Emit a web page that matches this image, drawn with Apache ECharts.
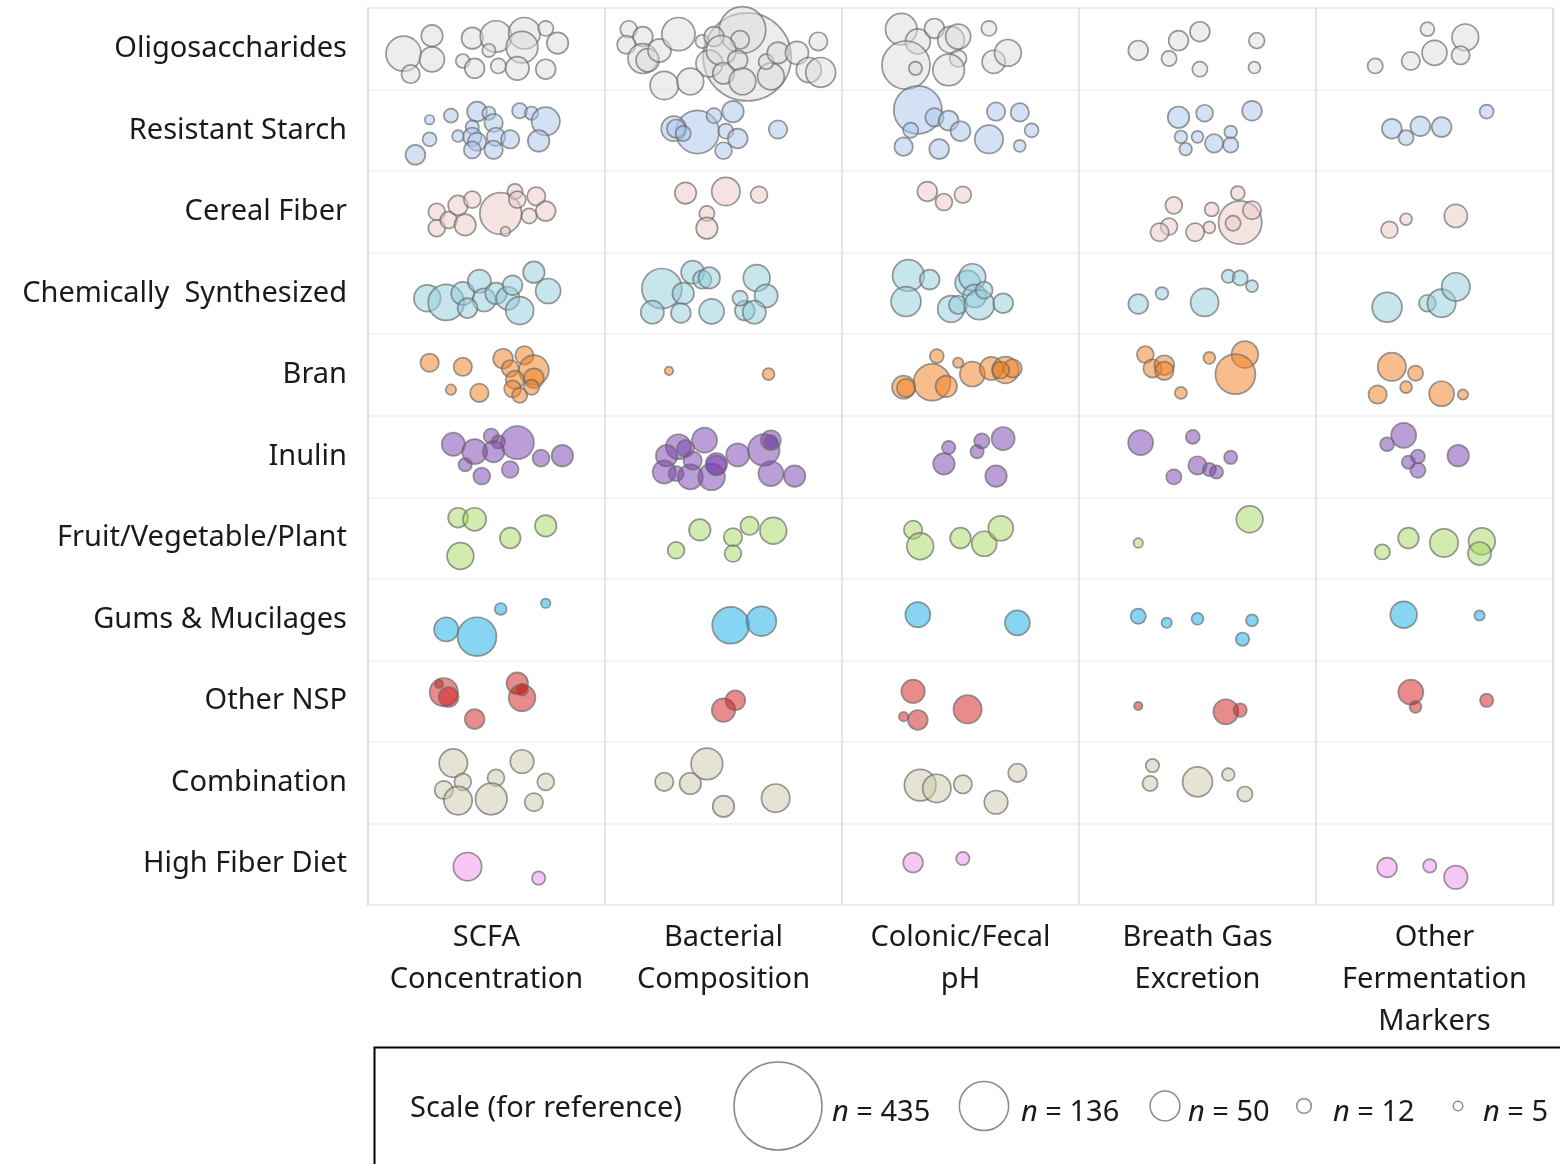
<!DOCTYPE html>
<html>
<head>
<meta charset="utf-8">
<script src="https://cdn.jsdelivr.net/npm/echarts@6/dist/echarts.min.js"></script>
<style>
html,body{margin:0;padding:0;background:#fff;}
#chart{width:1560px;height:1164px;}
</style>
</head>
<body>
<div id="chart"></div>
<script>
// ---------- DATA ----------
const categories = ['Oligosaccharides','Resistant Starch','Cereal Fiber','Chemically  Synthesized','Bran','Inulin','Fruit/Vegetable/Plant','Gums & Mucilages','Other NSP','Combination','High Fiber Diet'];
const outcomes = ['SCFA\nConcentration','Bacterial\nComposition','Colonic/Fecal\npH','Breath Gas\nExcretion','Other\nFermentation\nMarkers'];
const scaleN = [435, 136, 50, 12, 5];

// each point: [outcome position (column + offset), offset within the fiber row (0-1), n]
const oligosaccharides = [
[0.15,0.56,69],[0.27,0.34,26],[0.27,0.63,35],[0.18,0.81,19],[0.40,0.65,11],[0.44,0.37,26],[0.45,0.74,22],[0.54,0.35,56],[0.51,0.52,10],[0.55,0.71,13],[0.66,0.31,56],[0.65,0.48,56],[0.63,0.74,31],[0.75,0.25,13],[0.80,0.43,26],[0.75,0.75,22],
[1.60,0.60,435],[1.58,0.27,122],[1.57,0.39,19],[1.10,0.26,16],[1.16,0.35,22],[1.09,0.45,19],[1.16,0.62,50],[1.18,0.64,30],[1.23,0.52,30],[1.31,0.32,62],[1.41,0.41,10],[1.46,0.35,22],[1.44,0.68,40],[1.49,0.52,50],[1.50,0.80,26],[1.56,0.64,22],[1.25,0.95,45],[1.36,0.90,40],[1.58,0.90,40],[1.70,0.84,40],[1.68,0.66,13],[1.73,0.55,26],[1.81,0.55,30],[1.86,0.76,35],[1.91,0.79,50],[1.90,0.41,19],
[2.25,0.26,56],[2.32,0.41,35],[2.39,0.25,22],[2.46,0.39,40],[2.49,0.35,35],[2.49,0.62,16],[2.27,0.70,130],[2.31,0.74,10],[2.45,0.76,56],[2.62,0.25,13],[2.64,0.66,30],[2.70,0.55,40],
[3.25,0.52,22],[3.38,0.62,13],[3.42,0.40,22],[3.51,0.29,22],[3.51,0.75,13],[3.75,0.40,14],[3.74,0.73,8],
[4.25,0.71,13],[4.40,0.65,19],[4.50,0.55,35],[4.47,0.26,11],[4.63,0.36,40],[4.61,0.58,19]
];
const resistantStarch = [
[0.26,0.37,5],[0.35,0.32,11],[0.26,0.61,11],[0.20,0.80,22],[0.38,0.57,8],[0.46,0.27,22],[0.51,0.29,10],[0.53,0.41,19],[0.44,0.46,10],[0.44,0.58,19],[0.46,0.64,19],[0.44,0.74,16],[0.54,0.58,19],[0.53,0.74,19],[0.60,0.61,19],[0.64,0.26,13],[0.69,0.29,10],[0.75,0.39,45],[0.72,0.63,26],
[1.39,0.52,105],[1.29,0.48,35],[1.30,0.48,19],[1.33,0.54,13],[1.46,0.32,13],[1.54,0.27,26],[1.51,0.51,13],[1.56,0.60,22],[1.50,0.75,16],[1.73,0.49,19],
[2.32,0.25,130],[2.29,0.50,13],[2.39,0.34,19],[2.45,0.38,22],[2.50,0.51,22],[2.26,0.70,19],[2.41,0.73,22],[2.62,0.61,45],[2.65,0.27,19],[2.75,0.28,19],[2.80,0.50,11],[2.75,0.69,8],
[3.42,0.34,26],[3.53,0.29,16],[3.73,0.26,22],[3.43,0.58,9],[3.45,0.73,9],[3.50,0.58,8],[3.57,0.66,19],[3.64,0.52,9],[3.64,0.68,13],
[4.32,0.48,22],[4.38,0.59,13],[4.44,0.45,22],[4.53,0.46,22],[4.72,0.27,11]
];
const cerealFiber = [
[0.29,0.50,16],[0.29,0.70,16],[0.34,0.60,16],[0.38,0.42,22],[0.44,0.35,16],[0.41,0.66,26],[0.56,0.52,98],[0.62,0.25,13],[0.63,0.35,16],[0.71,0.31,19],[0.75,0.49,22],[0.68,0.55,13],[0.58,0.74,5],
[1.34,0.27,26],[1.51,0.25,45],[1.65,0.29,16],[1.43,0.52,13],[1.43,0.70,26],
[2.36,0.25,22],[2.43,0.38,16],[2.51,0.29,16],
[3.40,0.42,16],[3.38,0.68,16],[3.34,0.75,19],[3.49,0.75,19],[3.55,0.69,8],[3.56,0.47,11],[3.67,0.27,11],[3.68,0.63,105],[3.73,0.48,19],[3.65,0.64,13],
[4.31,0.72,16],[4.38,0.59,8],[4.59,0.55,30]
];
const chemicallySynthesized = [
[0.25,0.56,40],[0.33,0.61,73],[0.40,0.50,30],[0.47,0.35,30],[0.49,0.58,30],[0.54,0.50,26],[0.59,0.56,30],[0.61,0.40,22],[0.64,0.71,44],[0.70,0.24,26],[0.76,0.47,35],[0.42,0.68,22],
[1.24,0.44,90],[1.37,0.24,30],[1.41,0.33,19],[1.44,0.31,26],[1.33,0.50,26],[1.20,0.73,30],[1.32,0.74,22],[1.45,0.72,35],[1.64,0.31,40],[1.68,0.53,30],[1.59,0.71,22],[1.63,0.73,30],[1.57,0.56,13],
[2.28,0.28,56],[2.37,0.33,22],[2.27,0.60,50],[2.46,0.69,40],[2.49,0.64,19],[2.53,0.37,35],[2.55,0.30,40],[2.56,0.53,30],[2.58,0.64,50],[2.68,0.62,22],[2.60,0.46,16],
[3.25,0.63,22],[3.35,0.50,9],[3.53,0.61,44],[3.63,0.29,10],[3.68,0.31,13],[3.73,0.41,8],
[4.30,0.67,50],[4.47,0.62,16],[4.53,0.62,45],[4.59,0.42,45]
];
const bran = [
[0.26,0.35,19],[0.40,0.40,19],[0.35,0.68,6],[0.47,0.72,19],[0.57,0.30,22],[0.66,0.26,19],[0.70,0.44,50],[0.60,0.42,16],[0.62,0.56,19],[0.70,0.54,22],[0.61,0.67,16],[0.64,0.75,13],[0.69,0.65,13],
[1.27,0.45,4],[1.69,0.49,8],
[2.26,0.65,30],[2.27,0.66,19],[2.38,0.59,76],[2.40,0.27,11],[2.44,0.64,26],[2.49,0.35,6],[2.55,0.49,35],[2.63,0.42,30],[2.69,0.44,40],[2.72,0.42,19],[2.67,0.44,16],
[3.28,0.25,16],[3.31,0.42,19],[3.36,0.38,22],[3.36,0.45,19],[3.55,0.29,8],[3.43,0.72,8],[3.70,0.25,40],[3.66,0.49,90],
[4.32,0.40,45],[4.42,0.48,13],[4.38,0.65,8],[4.26,0.74,19],[4.53,0.73,35],[4.62,0.74,6]
];
const inulin = [
[0.36,0.35,30],[0.45,0.44,35],[0.52,0.25,13],[0.55,0.32,10],[0.53,0.44,26],[0.63,0.33,62],[0.41,0.60,10],[0.48,0.74,16],[0.60,0.66,16],[0.73,0.52,16],[0.82,0.49,26],
[1.31,0.38,35],[1.26,0.49,26],[1.34,0.40,16],[1.42,0.30,35],[1.25,0.69,30],[1.30,0.71,13],[1.36,0.75,35],[1.37,0.55,19],[1.45,0.75,40],[1.47,0.61,22],[1.47,0.59,26],[1.56,0.48,30],[1.67,0.42,56],[1.70,0.30,22],[1.70,0.32,10],[1.70,0.71,35],[1.80,0.74,26],
[2.45,0.39,10],[2.43,0.59,26],[2.59,0.31,13],[2.57,0.44,10],[2.68,0.28,30],[2.65,0.74,26],
[3.26,0.33,35],[3.48,0.26,11],[3.64,0.51,10],[3.50,0.61,19],[3.55,0.66,10],[3.58,0.69,10],[3.40,0.75,13],
[4.37,0.24,35],[4.30,0.35,11],[4.43,0.50,11],[4.39,0.57,10],[4.43,0.67,13],[4.60,0.49,26]
];
const fruitVegetablePlant = [
[0.38,0.25,22],[0.45,0.27,30],[0.60,0.50,24],[0.75,0.35,26],[0.39,0.72,40],
[1.40,0.40,26],[1.30,0.65,16],[1.54,0.49,19],[1.61,0.35,19],[1.54,0.69,16],[1.71,0.41,40],
[2.30,0.40,19],[2.33,0.60,40],[2.50,0.50,24],[2.60,0.57,35],[2.67,0.38,35],
[3.25,0.56,5],[3.72,0.27,40],
[4.28,0.67,13],[4.39,0.50,24],[4.54,0.56,45],[4.70,0.54,40],[4.69,0.69,30]
];
const gumsMucilages = [
[0.33,0.62,33],[0.46,0.71,85],[0.56,0.37,8],[0.75,0.30,5],
[1.53,0.57,76],[1.66,0.52,50],
[2.32,0.44,35],[2.74,0.54,35],
[3.25,0.46,13],[3.37,0.54,6],[3.50,0.49,8],[3.73,0.51,8],[3.69,0.74,10],
[4.37,0.44,40],[4.69,0.45,6]
];
const otherNSP = [
[0.32,0.39,45],[0.34,0.45,22],[0.30,0.29,4],[0.63,0.28,26],[0.65,0.46,40],[0.65,0.36,8],[0.45,0.72,22],
[1.50,0.61,31],[1.55,0.49,22],
[2.30,0.38,31],[2.32,0.73,22],[2.26,0.69,5],[2.53,0.60,45],
[3.25,0.56,4],[3.62,0.63,35],[3.68,0.61,10],
[4.40,0.39,35],[4.42,0.57,8],[4.72,0.49,10]
];
const combination = [
[0.36,0.26,45],[0.40,0.49,16],[0.32,0.59,19],[0.38,0.72,45],[0.54,0.44,16],[0.52,0.70,56],[0.65,0.24,31],[0.75,0.49,16],[0.70,0.74,19],
[1.25,0.49,19],[1.36,0.51,26],[1.43,0.27,56],[1.50,0.79,26],[1.72,0.69,45],
[2.33,0.53,56],[2.40,0.57,45],[2.51,0.52,19],[2.74,0.38,19],[2.65,0.74,31],
[3.31,0.29,10],[3.30,0.51,13],[3.50,0.49,50],[3.63,0.40,9],[3.70,0.64,13]
];
const highFiberDiet = [
[0.42,0.53,45],[0.72,0.67,10],
[2.30,0.48,22],[2.51,0.43,10],
[4.30,0.54,22],[4.48,0.52,10],[4.59,0.66,31]
];

const rowsData = [oligosaccharides, resistantStarch, cerealFiber, chemicallySynthesized, bran, inulin,
  fruitVegetablePlant, gumsMucilages, otherNSP, combination, highFiberDiet];

// ---------- STYLE ----------
const fills = [
  'rgba(221,221,221,0.65)', 'rgba(170,198,235,0.65)', 'rgba(235,201,200,0.65)', 'rgba(145,205,220,0.65)',
  'rgba(240,125,32,0.64)', 'rgba(122,62,176,0.64)', 'rgba(163,214,94,0.62)', 'rgba(20,172,232,0.64)',
  'rgba(209,20,20,0.62)', 'rgba(205,201,171,0.65)', 'rgba(237,140,232,0.62)'
];
const FONT = 'Noto Sans';
const FS = 29;
const sizeOf = n => 4.22 * Math.sqrt(n);

const chart = echarts.init(document.getElementById('chart'), null, {renderer: 'canvas'});

const series = rowsData.map((arr, i) => ({
  type: 'scatter',
  name: categories[i],
  xAxisIndex: 1,
  yAxisIndex: 1,
  data: arr.map(p => [p[0], i + p[1], p[2]]),
  symbolSize: v => sizeOf(v[2]),
  itemStyle: { color: fills[i], borderColor: 'rgba(105,105,105,0.85)', borderWidth: 1.7 },
  emphasis: { disabled: true },
  z: 3
}));

const legendX = [778, 984, 1165, 1304, 1458];
const legendLabelX = [832, 1021, 1188, 1333, 1483];
const graphics = [
  { type: 'rect', left: 372, top: 1045, shape: { width: 1210, height: 140 }, style: { fill: 'none', stroke: '#000', lineWidth: 2 } },
  { type: 'text', left: 410, top: 1094, style: { text: 'Scale (for reference)', font: FS + 'px "' + FONT + '"', fill: '#1a1a1a' } }
];
scaleN.forEach((n, k) => {
  graphics.push({ type: 'circle', shape: { cx: legendX[k], cy: 1106, r: sizeOf(n) / 2 }, style: { fill: '#fff', stroke: '#8a8a8a', lineWidth: 1.5 } });
  graphics.push({ type: 'text', left: legendLabelX[k], top: 1098, style: {
    text: '{i|n} = ' + n,
    font: FS + 'px "' + FONT + '"', fill: '#1a1a1a',
    rich: { i: { fontStyle: 'italic', fontSize: FS, fontFamily: FONT, fill: '#1a1a1a' } }
  }});
});

chart.setOption({
  animation: false,
  backgroundColor: '#fff',
  grid: { left: 368, top: 8, width: 1185, height: 897, show: true, borderColor: '#d9d9d9', borderWidth: 1.5, backgroundColor: 'transparent' },
  xAxis: [
    { type: 'category', data: outcomes, position: 'bottom',
      axisLine: { show: false }, axisTick: { show: false }, splitLine: { show: false },
      axisLabel: { fontSize: FS, fontFamily: FONT, color: '#1a1a1a', lineHeight: 42, margin: 12, interval: 0 } },
    { type: 'value', min: 0, max: 5, interval: 1, position: 'top',
      axisLine: { show: false }, axisTick: { show: false }, axisLabel: { show: false },
      splitLine: { show: true, lineStyle: { color: '#dcdcdc', width: 1.5 } } }
  ],
  yAxis: [
    { type: 'category', data: categories, inverse: true, position: 'left',
      axisLine: { show: false }, axisTick: { show: false }, splitLine: { show: false },
      axisLabel: { fontSize: FS, fontFamily: FONT, color: '#1a1a1a', margin: 21, interval: 0 } },
    { type: 'value', min: 0, max: 11, interval: 1, inverse: true, position: 'right',
      axisLine: { show: false }, axisTick: { show: false }, axisLabel: { show: false },
      splitLine: { show: true, lineStyle: { color: '#f1f1f1', width: 1.5 } } }
  ],
  series: series,
  graphic: graphics
});
</script>
</body>
</html>
